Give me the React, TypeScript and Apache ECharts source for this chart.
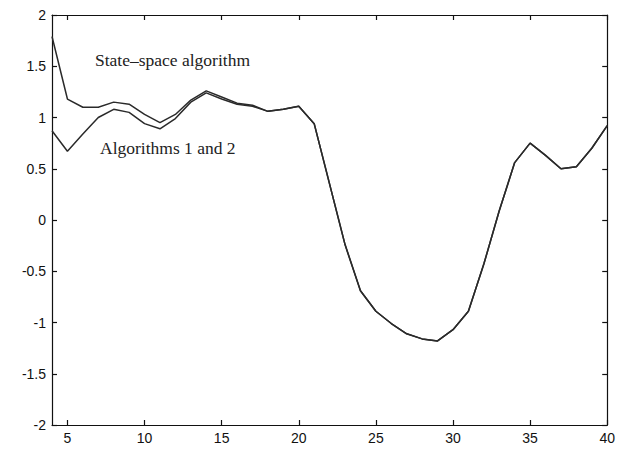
import React, { useEffect, useRef } from "react";
import * as echarts from "echarts";

const xValues = [4,5,6,7,8,9,10,11,12,13,14,15,16,17,18,19,20,21,22,23,24,25,26,27,28,29,30,31,32,33,34,35,36,37,38,39,40];
const stateSpace = [1.79,1.18,1.10,1.10,1.15,1.13,1.03,0.95,1.03,1.17,1.26,1.20,1.14,1.12,1.06,1.08,1.11,0.94,0.35,-0.24,-0.69,-0.89,-1.01,-1.11,-1.16,-1.18,-1.07,-0.89,-0.43,0.09,0.56,0.75,0.63,0.50,0.52,0.70,0.92];
const algorithms12 = [0.87,0.67,0.84,1.00,1.08,1.05,0.94,0.89,0.99,1.15,1.24,1.18,1.13,1.11,1.06,1.08,1.11,0.94,0.35,-0.24,-0.69,-0.89,-1.01,-1.11,-1.16,-1.18,-1.07,-0.89,-0.43,0.09,0.56,0.75,0.63,0.50,0.52,0.70,0.92];
const xTicks = [5,10,15,20,25,30,35,40];
const labelSS = "State\u2013space algorithm";
const labelAlg = "Algorithms 1 and 2";

export default function App() {
  const ref = useRef<HTMLDivElement>(null);
  useEffect(() => {
    if (!ref.current) return;
    const chart = echarts.init(ref.current, null, { renderer: "svg" });
    const axisLine = { show: true, onZero: false, lineStyle: { color: "#111", width: 1.2 } };
    const tickStyle = { lineStyle: { color: "#111", width: 1.2 } };
    const labelFont = { color: "#111", fontSize: 14, fontFamily: "Liberation Sans, Arial, sans-serif" };
    chart.setOption({
      animation: false,
      backgroundColor: "#fff",
      grid: { left: 52, right: 7, top: 15, bottom: 28, containLabel: false },
      xAxis: [
        {
          type: "value", min: 4, max: 40, position: "bottom",
          axisLine, splitLine: { show: false },
          axisTick: { show: true, inside: true, length: 5, customValues: xTicks, ...tickStyle },
          axisLabel: { ...labelFont, margin: 6, customValues: xTicks, hideOverlap: false },
        },
        {
          type: "value", min: 4, max: 40, position: "top",
          axisLine, splitLine: { show: false },
          axisTick: { show: true, inside: true, length: 5, customValues: xTicks, ...tickStyle },
          axisLabel: { show: false },
        },
      ],
      yAxis: [
        {
          type: "value", min: -2, max: 2, interval: 0.5, position: "left",
          axisLine, splitLine: { show: false },
          axisTick: { show: true, inside: true, length: 5, ...tickStyle },
          axisLabel: { ...labelFont, margin: 6 },
        },
        {
          type: "value", min: -2, max: 2, interval: 0.5, position: "right",
          axisLine, splitLine: { show: false },
          axisTick: { show: true, inside: true, length: 5, ...tickStyle },
          axisLabel: { show: false },
        },
      ],
      series: [
        {
          type: "line", name: labelSS, xAxisIndex: 0, yAxisIndex: 0,
          data: xValues.map((x, i) => [x, stateSpace[i]]),
          showSymbol: false, lineStyle: { color: "#2a2a2a", width: 1.5 },
        },
        {
          type: "line", name: labelAlg, xAxisIndex: 0, yAxisIndex: 0,
          data: xValues.map((x, i) => [x, algorithms12[i]]),
          showSymbol: false, lineStyle: { color: "#2a2a2a", width: 1.5 },
        },
      ],
      graphic: [
        {
          type: "text", left: 95, top: 51,
          style: { text: labelSS, fill: "#222", fontSize: 17.5, fontFamily: "Liberation Serif, Times New Roman, serif" },
        },
        {
          type: "text", left: 100, top: 139,
          style: { text: labelAlg, fill: "#222", fontSize: 17.5, fontFamily: "Liberation Serif, Times New Roman, serif" },
        },
      ],
    });
    return () => chart.dispose();
  }, []);
  return <div ref={ref} style={{ width: 618, height: 453, position: "absolute", left: 0, top: 0, background: "#fff" }} />;
}
